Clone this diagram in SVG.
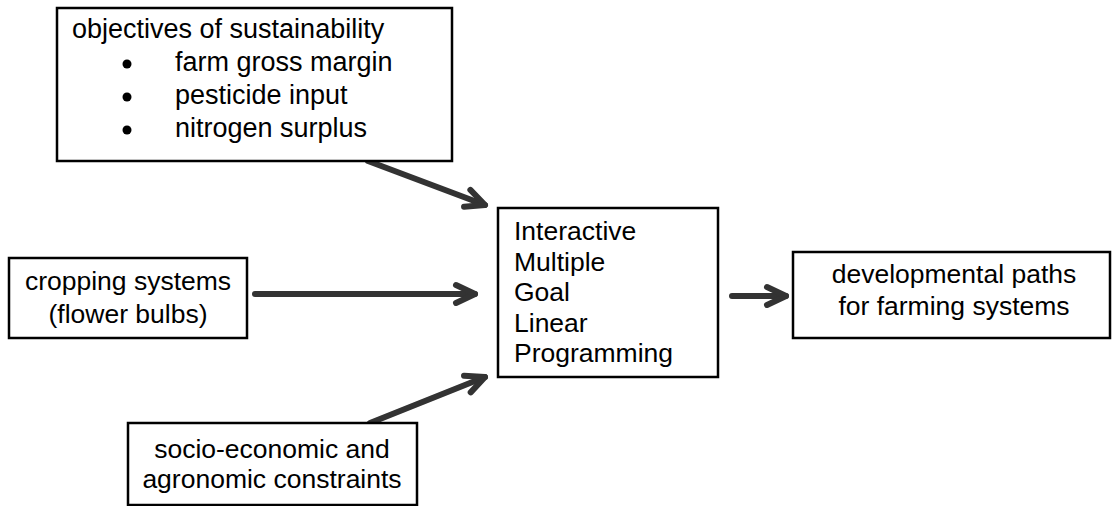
<svg xmlns="http://www.w3.org/2000/svg" width="1113" height="506" viewBox="0 0 1113 506">
  <style>
    .box { fill: #ffffff; stroke: #000000; stroke-width: 2.5; }
    .lbl { font-family: "Liberation Sans", Arial, sans-serif; font-size: 26.5px; fill: #000000; }
    .big { font-size: 27px; }
    .mid { text-anchor: middle; }
    .arrow { fill: none; stroke: #333333; stroke-width: 6; stroke-linecap: round; stroke-linejoin: round; }
  </style>
  <defs>
    <marker id="chevron" viewBox="0 0 30 30" refX="26" refY="15" markerWidth="30" markerHeight="30" markerUnits="userSpaceOnUse" orient="auto">
      <path d="M7,6 L26,15 L7,24" fill="none" stroke="#333333" stroke-width="6" stroke-linecap="round" stroke-linejoin="round"/>
    </marker>
  </defs>
  <rect width="1113" height="506" fill="#ffffff"/>

  <g id="connectors">
    <line class="arrow" x1="368" y1="161" x2="485" y2="205" marker-end="url(#chevron)"/>
    <line class="arrow" x1="255" y1="294" x2="475" y2="294" marker-end="url(#chevron)"/>
    <line class="arrow" x1="370" y1="423" x2="485" y2="377" marker-end="url(#chevron)"/>
    <line class="arrow" x1="732" y1="296" x2="786" y2="296" marker-end="url(#chevron)"/>
  </g>

  <g id="objectives">
    <rect class="box" x="57" y="8" width="395" height="153"/>
    <text class="lbl big" x="72" y="38">objectives of sustainability</text>
    <circle cx="127" cy="64" r="4.5"/>
    <text class="lbl big" x="175" y="71">farm gross margin</text>
    <circle cx="127" cy="97" r="4.5"/>
    <text class="lbl big" x="175" y="104">pesticide input</text>
    <circle cx="127" cy="130" r="4.5"/>
    <text class="lbl big" x="175" y="137">nitrogen surplus</text>
  </g>

  <g id="imglp">
    <rect class="box" x="498" y="208" width="220" height="169"/>
    <text class="lbl" x="514" y="240">Interactive</text>
    <text class="lbl" x="514" y="271">Multiple</text>
    <text class="lbl" x="514" y="301">Goal</text>
    <text class="lbl" x="514" y="332">Linear</text>
    <text class="lbl" x="514" y="362">Programming</text>
  </g>

  <g id="cropping">
    <rect class="box" x="9" y="258" width="238" height="80"/>
    <text class="lbl mid" x="128" y="290">cropping systems</text>
    <text class="lbl mid" x="128" y="323">(flower bulbs)</text>
  </g>

  <g id="constraints">
    <rect class="box" x="128" y="423" width="289" height="82"/>
    <text class="lbl mid" x="272" y="458">socio-economic and</text>
    <text class="lbl mid" x="272" y="488">agronomic constraints</text>
  </g>

  <g id="paths">
    <rect class="box" x="793" y="252" width="317" height="86"/>
    <text class="lbl mid" x="954" y="283">developmental paths</text>
    <text class="lbl mid" x="954" y="315">for farming systems</text>
  </g>
</svg>
